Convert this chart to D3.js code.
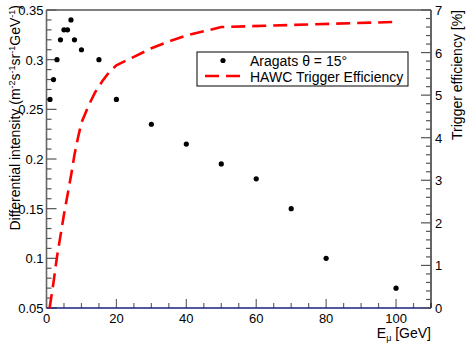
<!DOCTYPE html>
<html>
<head>
<meta charset="utf-8">
<script src="https://cdn.jsdelivr.net/npm/d3@7"></script>
<style>
  body { margin: 0; background: #fff; }
  text { font-family: "Liberation Sans", Arial, sans-serif; fill: #000; }
</style>
</head>
<body>
<script>
// Aragats intensity points
var energy = [1, 2, 3, 4, 5, 6, 7, 8, 10, 15, 20, 30, 40, 50, 60, 70, 80, 100];
var intensity = [0.26, 0.28, 0.30, 0.32, 0.33, 0.33, 0.34, 0.32, 0.31, 0.30, 0.26, 0.235, 0.215, 0.195, 0.18, 0.15, 0.10, 0.07];

// HAWC trigger efficiency curve
var effEnergy = [0.9, 2, 3, 4, 5, 6, 7, 8, 9, 10, 12, 14, 16, 18, 20, 25, 30, 35, 40, 45, 50, 100];
var effValue = [0, 0.6, 1.2, 1.7, 2.2, 2.65, 3.1, 3.6, 4.0, 4.35, 4.75, 5.08, 5.33, 5.55, 5.7, 5.9, 6.1, 6.26, 6.4, 6.5, 6.6, 6.72];

var leftTicks = [0.05, 0.1, 0.15, 0.2, 0.25, 0.3, 0.35];
var leftLabels = ["0.05", "0.1", "0.15", "0.2", "0.25", "0.3", "0.35"];
var xTicks = [0, 20, 40, 60, 80, 100];
var rightTicks = [0, 1, 2, 3, 4, 5, 6, 7];

var w = 469, h = 343;
var padL = 46.5, padR = 431, padT = 10, padB = 308;

var svg = d3.select("body").append("svg")
    .attr("width", w)
    .attr("height", h);

var x = d3.scaleLinear().domain([0, 110]).range([padL, padR]);
var y = d3.scaleLinear().domain([0.05, 0.35]).range([padB, padT]);
var y2 = d3.scaleLinear().domain([0, 7]).range([padB, padT]);

// frame top line
svg.append("line")
    .attr("x1", padL).attr("x2", padR)
    .attr("y1", padT).attr("y2", padT)
    .attr("stroke", "#000").attr("stroke-width", 1);

// left axis
var gL = svg.append("g").attr("transform", "translate(" + padL + ",0)");
gL.append("line").attr("x1", 0).attr("x2", 0).attr("y1", padT).attr("y2", padB)
    .attr("stroke", "#666").attr("stroke-width", 1.6);
gL.selectAll(".tk").data(d3.range(0, 31)).enter().append("line")
    .attr("x1", 0)
    .attr("x2", function(i) { return i % 5 == 0 ? 10 : 5; })
    .attr("y1", function(i) { return y(0.05 + i * 0.01); })
    .attr("y2", function(i) { return y(0.05 + i * 0.01); })
    .attr("stroke", "#555").attr("stroke-width", 1.2);
gL.selectAll(".lb").data(leftTicks).enter().append("text")
    .attr("x", -3)
    .attr("y", function(d) { return y(d) + 5; })
    .attr("text-anchor", "end")
    .attr("font-size", 13)
    .text(function(d, i) { return leftLabels[i]; });

// bottom axis
var gB = svg.append("g");
gB.selectAll(".tk").data(d3.range(0, 23)).enter().append("line")
    .attr("x1", function(i) { return x(i * 5); })
    .attr("x2", function(i) { return x(i * 5); })
    .attr("y1", padB)
    .attr("y2", function(i) { return i % 4 == 0 ? padB - 9 : padB - 5; })
    .attr("stroke", "#666").attr("stroke-width", 1.2);
gB.append("line").attr("x1", padL).attr("x2", padR).attr("y1", padB).attr("y2", padB)
    .attr("stroke", "#1a1f7a").attr("stroke-width", 1.6);
gB.selectAll(".lb").data(xTicks).enter().append("text")
    .attr("x", function(d) { return x(d); })
    .attr("y", padB + 15)
    .attr("text-anchor", "middle")
    .attr("font-size", 13)
    .text(function(d) { return d; });

// right axis
var gR = svg.append("g");
gR.append("line").attr("x1", padR).attr("x2", padR).attr("y1", padT).attr("y2", padB)
    .attr("stroke", "#000").attr("stroke-width", 1.2);
gR.selectAll(".tk").data(d3.range(0, 36)).enter().append("line")
    .attr("x1", padR)
    .attr("x2", function(i) { return i % 5 == 0 ? padR - 10 : padR - 5; })
    .attr("y1", function(i) { return y2(i * 0.2); })
    .attr("y2", function(i) { return y2(i * 0.2); })
    .attr("stroke", "#555").attr("stroke-width", 1.2);
gR.selectAll(".lb").data(rightTicks).enter().append("text")
    .attr("x", padR + 4)
    .attr("y", function(d) { return y2(d) + 5; })
    .attr("font-size", 13)
    .text(function(d) { return d; });

// efficiency curve
var line = d3.line()
    .x(function(d, i) { return x(effEnergy[i]); })
    .y(function(d, i) { return y2(effValue[i]); });
svg.append("path")
    .datum(effValue)
    .attr("d", line)
    .attr("fill", "none")
    .attr("stroke", "#ff0000")
    .attr("stroke-width", 2.6)
    .attr("stroke-dasharray", "14,7");

// data points
svg.selectAll(".pt").data(intensity).enter().append("circle")
    .attr("cx", function(d, i) { return x(energy[i]); })
    .attr("cy", function(d) { return y(d); })
    .attr("r", 2.6)
    .attr("fill", "#000");

// legend
var lg = svg.append("g");
lg.append("rect")
    .attr("x", 197).attr("y", 52).attr("width", 211).attr("height", 34)
    .attr("fill", "#fff").attr("stroke", "#000").attr("stroke-width", 1);
lg.append("circle").attr("cx", 223).attr("cy", 60.5).attr("r", 2.6).attr("fill", "#000");
lg.append("line").attr("x1", 205).attr("x2", 241).attr("y1", 76).attr("y2", 76)
    .attr("stroke", "#ff0000").attr("stroke-width", 2.6).attr("stroke-dasharray", "14,7");
lg.append("text").attr("x", 250).attr("y", 66).attr("font-size", 14).text("Aragats θ = 15°");
lg.append("text").attr("x", 250).attr("y", 81.5).attr("font-size", 14).text("HAWC Trigger Efficiency");

// axis titles
var lt = svg.append("text")
    .attr("transform", "translate(20,5) rotate(-90)")
    .attr("text-anchor", "end")
    .attr("font-size", 14);
lt.append("tspan").text("Differential intensity (m");
lt.append("tspan").attr("font-size", 9).attr("dy", -5).text("-2");
lt.append("tspan").attr("dy", 5).text("s");
lt.append("tspan").attr("font-size", 9).attr("dy", -5).text("-1");
lt.append("tspan").attr("dy", 5).text("sr");
lt.append("tspan").attr("font-size", 9).attr("dy", -5).text("-1");
lt.append("tspan").attr("dy", 5).text("GeV");
lt.append("tspan").attr("font-size", 9).attr("dy", -5).text("-1");
lt.append("tspan").attr("dy", 5).text(")");

svg.append("text")
    .attr("transform", "translate(462,10) rotate(-90)")
    .attr("text-anchor", "end")
    .attr("font-size", 14)
    .text("Trigger efficiency [%]");

var xt = svg.append("text")
    .attr("x", padR)
    .attr("y", 338)
    .attr("text-anchor", "end")
    .attr("font-size", 14);
xt.append("tspan").text("E");
xt.append("tspan").attr("font-size", 9).attr("dy", 3).text("μ");
xt.append("tspan").attr("dy", -3).text(" [GeV]");
</script>
</body>
</html>
